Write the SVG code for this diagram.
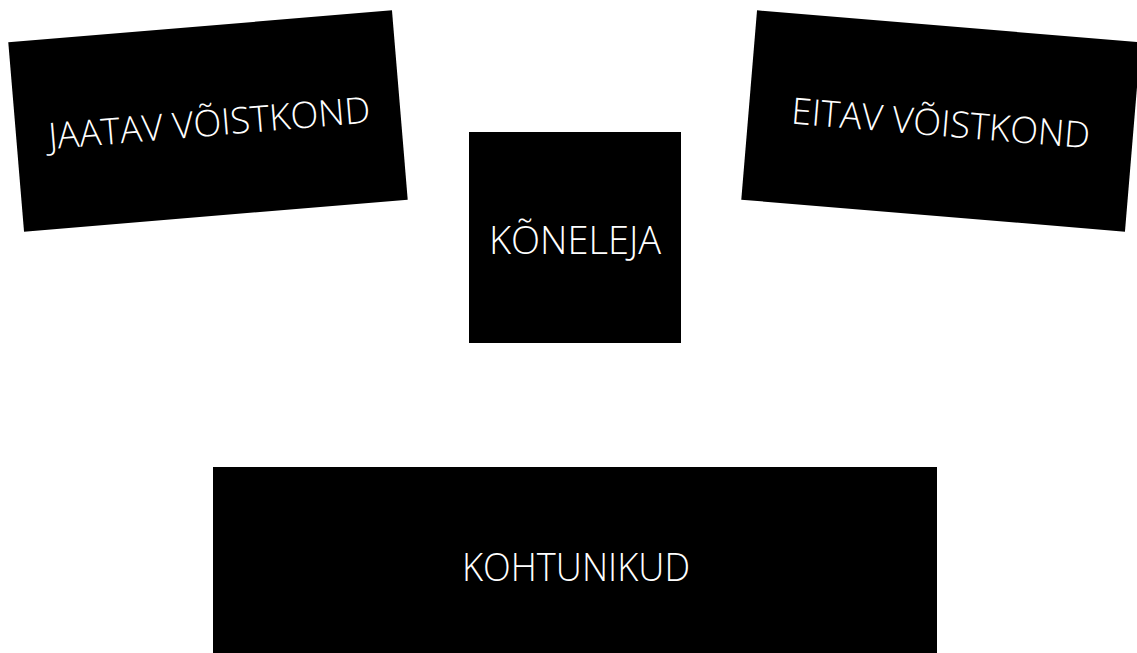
<svg xmlns="http://www.w3.org/2000/svg" width="1137" height="653" viewBox="0 0 1137 653">
<style>
.box{fill:#000}
.lbl{fill:#fff;font-family:"Open Sans","Lato","Liberation Sans",sans-serif;font-weight:300;font-size:38px;text-anchor:middle;dominant-baseline:central}
.team{font-size:36.5px}
</style>
<rect width="1137" height="653" fill="#fff"/>
<g id="connectors"/>
<g id="jaatav" transform="translate(208,121) rotate(-4.76)">
<rect class="box" x="-192.5" y="-95" width="385" height="190"/>
<text class="lbl team" x="1" y="1">JAATAV VÕISTKOND</text>
</g>
<g id="eitav" transform="translate(941,121) rotate(4.76)">
<rect class="box" x="-192.5" y="-95" width="385" height="190"/>
<text class="lbl team" x="0" y="1">EITAV VÕISTKOND</text>
</g>
<g id="koneleja">
<rect class="box" x="469" y="132" width="212" height="211"/>
<text class="lbl" x="575" y="239">KÕNELEJA</text>
</g>
<g id="kohtunikud">
<rect class="box" x="213" y="467" width="724" height="186"/>
<text class="lbl" x="576" y="566" textLength="228" lengthAdjust="spacingAndGlyphs">KOHTUNIKUD</text>
</g>
</svg>
